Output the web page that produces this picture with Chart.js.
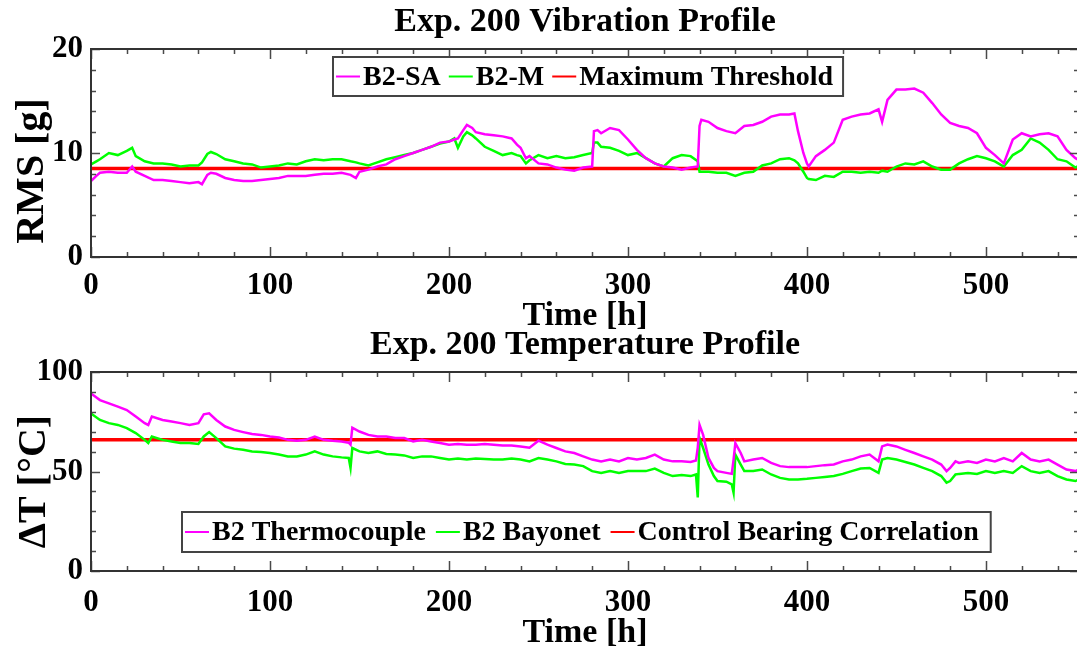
<!DOCTYPE html>
<html>
<head>
<meta charset="utf-8">
<script src="https://cdn.jsdelivr.net/npm/chart.js@4"></script>
<style>
  html, body { margin: 0; padding: 0; background: #fff; overflow: hidden; }
  body { width: 1077px; height: 655px; position: relative; }
  canvas { position: absolute; left: 0; }
  #vib { top: 0; }
  #temp { top: 325px; }
</style>
</head>
<body>
<canvas id="vib" width="1082" height="331"></canvas>
<canvas id="temp" width="1082" height="330"></canvas>
<script>
const serif = '"Liberation Serif", "Times New Roman", serif'
Chart.defaults.font.family = serif
Chart.defaults.font.weight = 'bold'
Chart.defaults.color = '#000'

const xMax = 552

// Exp. 200 vibration profile (RMS [g])
const vibT = [
  0, 3, 5, 10, 15, 20, 23, 25, 30, 35,
  40, 45, 50, 55, 60, 62, 65, 67, 70, 75,
  80, 85, 90, 95, 100, 105, 110, 115, 120, 125,
  130, 135, 140, 145, 148, 150, 155, 160, 165, 170,
  175, 180, 185, 190, 195, 200, 203, 205, 208, 210,
  213, 215, 220, 225, 230, 235, 238, 240, 243, 245,
  250, 255, 260, 265, 270, 275, 280, 281, 283, 285,
  290, 295, 300, 305, 310, 315, 320, 325, 330, 335,
  339, 340, 341, 345, 350, 355, 360, 365, 370, 375,
  380, 385, 390, 393, 395, 398, 400, 401, 405, 410,
  415, 420, 425, 430, 435, 440, 442, 445, 450, 455,
  460, 465, 470, 475, 480, 485, 490, 495, 500, 505,
  510, 515, 520, 525, 530, 535, 540, 545, 550, 552
]
const b2SA = [
  7.3, 7.8, 8.1, 8.2, 8.1, 8.1, 8.7, 8.2, 7.8, 7.4,
  7.4, 7.3, 7.2, 7.1, 7.2, 7.0, 7.9, 8.1, 8.0, 7.6,
  7.4, 7.3, 7.3, 7.4, 7.5, 7.6, 7.8, 7.8, 7.8, 7.9,
  8.0, 8.0, 8.1, 7.9, 7.6, 8.2, 8.4, 8.7, 8.9, 9.4,
  9.7, 10.0, 10.3, 10.6, 11.0, 11.1, 11.3, 11.4, 12.2, 12.7,
  12.4, 12.0, 11.8, 11.7, 11.6, 11.4, 10.8, 10.5, 9.5, 9.7,
  9.0, 8.9, 8.6, 8.4, 8.3, 8.6, 8.7, 12.1, 12.2, 11.9,
  12.4, 12.2, 11.3, 10.3, 9.5, 9.0, 8.7, 8.6, 8.4, 8.6,
  8.7, 12.6, 13.2, 13.0, 12.4, 12.1, 11.9, 12.6, 12.7, 13.0,
  13.5, 13.7, 13.7, 13.8, 12.1, 10.0, 9.0, 8.7, 9.7, 10.3,
  11.0, 13.2, 13.5, 13.7, 13.8, 14.2, 13.0, 15.1, 16.1, 16.1,
  16.2, 15.8, 14.8, 13.7, 12.9, 12.6, 12.4, 11.9, 10.5, 9.8,
  9.0, 11.3, 11.9, 11.6, 11.8, 11.9, 11.6, 10.3, 9.5, 9.3
]
const b2M = [
  8.9, 9.2, 9.4, 10.0, 9.8, 10.2, 10.5, 9.7, 9.2, 9.0,
  9.0, 8.9, 8.7, 8.8, 8.8, 9.1, 9.9, 10.1, 9.9, 9.4,
  9.2, 9.0, 8.9, 8.6, 8.7, 8.8, 9.0, 8.9, 9.2, 9.4,
  9.3, 9.4, 9.4, 9.2, 9.1, 9.0, 8.8, 9.1, 9.4, 9.6,
  9.8, 10.0, 10.3, 10.6, 10.9, 11.1, 11.4, 10.5, 11.6, 12.0,
  11.7, 11.4, 10.6, 10.2, 9.8, 10.0, 9.8, 9.7, 9.0, 9.3,
  9.8, 9.5, 9.7, 9.5, 9.6, 9.8, 10.0, 11.0, 11.0, 10.6,
  10.5, 10.2, 9.8, 10.0, 9.5, 9.0, 8.7, 9.5, 9.8, 9.7,
  9.2, 8.2, 8.2, 8.2, 8.1, 8.1, 7.8, 8.1, 8.2, 8.8,
  9.0, 9.4, 9.5, 9.3, 9.0, 8.2, 7.6, 7.5, 7.4, 7.8,
  7.7, 8.2, 8.2, 8.1, 8.2, 8.1, 8.3, 8.2, 8.7, 9.0,
  8.9, 9.2, 8.7, 8.4, 8.4, 9.0, 9.4, 9.7, 9.5, 9.2,
  8.7, 9.8, 10.3, 11.4, 11.0, 10.3, 9.4, 9.2, 8.6, 8.8
]
const maxThreshold = 8.5

// Exp. 200 temperature profile (delta T [C])
const tempT = [
  0, 5, 10, 15, 20, 25, 30, 32, 34, 40,
  45, 50, 55, 60, 63, 66, 70, 75, 80, 85,
  90, 95, 100, 105, 110, 115, 120, 125, 130, 135,
  140, 144, 145, 146, 150, 155, 160, 165, 170, 175,
  180, 185, 190, 195, 200, 205, 210, 215, 220, 225,
  230, 235, 240, 245, 250, 255, 260, 265, 270, 275,
  280, 285, 290, 295, 300, 305, 310, 315, 320, 325,
  330, 335, 338, 339, 340, 342, 345, 348, 350, 355,
  358, 359, 360, 363, 365, 370, 375, 380, 385, 390,
  395, 400, 405, 410, 415, 420, 425, 430, 435, 440,
  442, 445, 450, 455, 460, 465, 470, 475, 478, 480,
  483, 485, 490, 495, 500, 505, 510, 515, 520, 525,
  530, 535, 540, 545, 550, 552
]
const b2Thermocouple = [
  89.2, 85.9, 84.2, 82.6, 80.9, 77.6, 74.3, 73.4, 77.6, 75.9,
  75.1, 74.3, 73.4, 74.3, 78.7, 79.2, 75.9, 72.6, 70.9, 69.8,
  68.8, 68.4, 67.6, 67.1, 65.9, 65.4, 65.9, 67.6, 65.9, 65.4,
  65.1, 64.5, 63.5, 72.0, 70.1, 68.4, 67.6, 67.6, 66.8, 66.8,
  65.1, 65.9, 65.1, 64.3, 63.5, 63.8, 63.5, 63.5, 63.8, 63.5,
  63.1, 63.1, 62.6, 62.0, 65.5, 63.5, 61.8, 60.1, 59.3, 57.6,
  56.0, 55.1, 56.0, 55.1, 56.8, 56.0, 56.8, 58.5, 56.0, 55.1,
  55.1, 54.8, 55.5, 62.0, 73.4, 68.4, 56.8, 51.8, 50.2, 49.3,
  48.8, 56.0, 64.3, 59.3, 55.1, 56.0, 56.8, 54.3, 52.7, 52.2,
  52.2, 52.2, 52.7, 53.2, 53.5, 55.1, 56.0, 57.6, 58.5, 55.1,
  62.6, 63.5, 62.6, 60.9, 59.3, 57.6, 56.0, 53.5, 50.2, 51.8,
  55.1, 54.3, 55.1, 54.3, 56.0, 55.1, 56.8, 55.1, 59.3, 56.0,
  55.1, 56.0, 53.5, 51.0, 50.2, 51.0
]
const b2Bayonet = [
  79.2, 75.9, 74.3, 73.4, 71.8, 69.3, 65.9, 64.3, 67.6, 65.9,
  65.1, 64.3, 64.3, 63.8, 67.6, 69.8, 66.8, 62.6, 61.5, 60.9,
  60.1, 59.8, 59.3, 58.5, 57.6, 57.6, 58.5, 60.1, 58.5, 57.6,
  57.1, 56.8, 51.8, 61.8, 60.1, 59.3, 60.1, 58.8, 58.5, 58.1,
  56.8, 57.6, 57.6, 56.8, 56.0, 56.5, 56.0, 56.5, 56.3, 56.0,
  56.0, 56.5, 56.0, 55.1, 56.8, 56.0, 55.1, 53.8, 53.5, 52.7,
  50.2, 49.3, 50.2, 49.3, 50.2, 50.2, 50.2, 51.5, 49.3, 47.7,
  48.2, 47.7, 48.5, 37.0, 66.8, 61.8, 53.5, 47.7, 45.2, 44.9,
  43.5, 39.4, 58.5, 53.5, 50.2, 50.2, 51.0, 48.5, 46.8, 46.0,
  46.0, 46.3, 46.8, 47.2, 47.7, 48.8, 50.2, 51.5, 51.8, 49.3,
  56.0, 56.8, 56.0, 54.8, 53.5, 51.8, 50.2, 47.7, 44.4, 45.2,
  48.5, 48.8, 49.3, 48.8, 50.2, 49.3, 50.2, 49.3, 52.7, 50.2,
  49.3, 50.2, 47.7, 46.0, 45.2, 46.0
]
const controlCorrelation = 66

const MAGENTA = '#ff00ff'
const GREEN = '#00ff00'
const RED = '#ff0000'

const pts = (t, v) => t.map((x, i) => ({ x: x, y: v[i] }))
const flat = (v) => [{ x: 0, y: v }, { x: xMax, y: v }]

// matlab style box with inward ticks
const frame = {
  id: 'frame',
  afterDatasetsDraw(chart, args, o) {
    const { ctx, chartArea: a, scales: { x, y } } = chart
    ctx.save()
    ctx.strokeStyle = '#4a4a4a'
    ctx.lineWidth = 1.5
    ctx.beginPath()
    for (let v = x.min; v <= x.max + 0.01; v += o.xMinor) {
      const px = Math.round(x.getPixelForValue(v)) + 0.5
      const len = v % o.xMajor === 0 ? 10 : 5
      ctx.moveTo(px, a.bottom); ctx.lineTo(px, a.bottom - len)
      ctx.moveTo(px, a.top); ctx.lineTo(px, a.top + len)
    }
    for (let v = y.min; v <= y.max + 0.01; v += o.yMinor) {
      const py = Math.round(y.getPixelForValue(v)) + 0.5
      const len = v % o.yMajor === 0 ? 9 : 5
      ctx.moveTo(a.left, py); ctx.lineTo(a.left + len, py)
      ctx.moveTo(a.right, py); ctx.lineTo(a.right - len, py)
    }
    ctx.stroke()
    ctx.strokeStyle = '#333'
    ctx.lineWidth = 2
    ctx.strokeRect(a.left, a.top, a.right - a.left, a.bottom - a.top)
    ctx.restore()
  }
}

// legend drawn inside the axes, in a box
const boxLegend = {
  id: 'boxLegend',
  afterDraw(chart, args, o) {
    const { ctx, chartArea: a } = chart
    ctx.save()
    ctx.font = 'bold 28px ' + serif
    const items = chart.data.datasets.map((d) => ({ label: d.label, color: d.borderColor, w: ctx.measureText(d.label).width }))
    let total = o.padL + o.padR + o.space * (items.length - 1)
    items.forEach((it) => { total += o.line + o.gap + it.w })
    const left = Math.round((a.left + a.right) / 2 - total / 2 + o.shift)
    const top = o.at === 'top' ? a.top + o.offset : a.bottom - o.offset - o.height
    ctx.fillStyle = '#fff'
    ctx.fillRect(left, top, total, o.height)
    ctx.strokeStyle = '#444'
    ctx.lineWidth = 2
    ctx.strokeRect(left, top, total, o.height)
    const cy = top + o.height / 2
    let cx = left + o.padL
    items.forEach((it) => {
      ctx.strokeStyle = it.color
      ctx.lineWidth = 2
      ctx.beginPath(); ctx.moveTo(cx, cy); ctx.lineTo(cx + o.line, cy); ctx.stroke()
      ctx.fillStyle = '#000'
      ctx.textBaseline = 'middle'
      ctx.fillText(it.label, cx + o.line + o.gap, cy + 1)
      cx += o.line + o.gap + it.w + o.space
    })
    ctx.restore()
  }
}

// rotated y label
const yLabel = {
  id: 'yLabel',
  afterDraw(chart, args, o) {
    const { ctx, chartArea: a } = chart
    ctx.save()
    ctx.translate(o.x, (a.top + a.bottom) / 2 + o.dy)
    ctx.rotate(-Math.PI / 2)
    ctx.font = 'bold ' + o.size + 'px ' + serif
    ctx.fillStyle = '#000'
    ctx.textAlign = 'center'
    ctx.textBaseline = 'middle'
    ctx.fillText(o.text, 0, 0)
    ctx.restore()
  }
}

function profile(el, c) {
  return new Chart(el, {
    type: 'line',
    data: { datasets: c.datasets },
    options: {
      responsive: false,
      animation: false,
      devicePixelRatio: 1,
      layout: { padding: { left: 0, right: 3, top: 0, bottom: 0 } },
      elements: { point: { radius: 0 }, line: { tension: 0 } },
      plugins: {
        legend: { display: false },
        tooltip: { enabled: false },
        title: {
          display: true,
          text: c.title,
          fullSize: false,
          color: '#000',
          font: { size: 34, weight: 'bold', lineHeight: 1 },
          padding: c.titlePad,
        },
        frame: c.frame,
        boxLegend: c.legend,
        yLabel: c.yLabel,
      },
      scales: {
        x: {
          type: 'linear',
          min: 0,
          max: xMax,
          grid: { display: false, drawTicks: false },
          border: { display: false },
          ticks: { stepSize: 100, includeBounds: false, maxRotation: 0, padding: c.xTickPad, color: '#000', font: { size: 31, weight: 'bold', lineHeight: 1 } },
          title: { display: true, text: 'Time [h]', color: '#000', font: { size: 34, weight: 'bold', lineHeight: 1 }, padding: { top: 0, bottom: c.xTitlePad } },
          afterFit: (s) => { s.height = c.xHeight },
        },
        y: {
          min: 0,
          max: c.yMax,
          grid: { display: false, drawTicks: false },
          border: { display: false },
          ticks: { stepSize: c.yStep, padding: 8, color: '#000', font: { size: 31, weight: 'bold', lineHeight: 1 } },
          afterFit: (s) => { s.width = 91 },
        },
      },
    },
    plugins: [frame, boxLegend, yLabel],
  })
}

profile(document.getElementById('vib'), {
  title: 'Exp. 200 Vibration Profile',
  titlePad: { top: 5, bottom: 10 },
  xTickPad: 13,
  xTitlePad: -2,
  xHeight: 74,
  yMax: 20,
  yStep: 10,
  frame: { xMinor: 20, xMajor: 100, yMinor: 2, yMajor: 10 },
  legend: { at: 'top', offset: 8, height: 39, padL: 3, padR: 10, line: 24, gap: 3, space: 8, shift: 3 },
  yLabel: { text: 'RMS [g]', x: 33, dy: 18, size: 40 },
  datasets: [
    { label: 'B2-SA', data: pts(vibT, b2SA), borderColor: MAGENTA, borderWidth: 2.5 },
    { label: 'B2-M', data: pts(vibT, b2M), borderColor: GREEN, borderWidth: 2.5 },
    { label: 'Maximum Threshold', data: flat(maxThreshold), borderColor: RED, borderWidth: 3.5 },
  ],
})

profile(document.getElementById('temp'), {
  title: 'Exp. 200 Temperature Profile',
  titlePad: { top: 3, bottom: 10 },
  xTickPad: 16,
  xTitlePad: 5,
  xHeight: 84,
  yMax: 100,
  yStep: 50,
  frame: { xMinor: 20, xMajor: 100, yMinor: 10, yMajor: 50 },
  legend: { at: 'bottom', offset: 19, height: 40, padL: 3, padR: 12, line: 24, gap: 3, space: 10, shift: 1 },
  yLabel: { text: 'ΔT [°C]', x: 35, dy: 10, size: 40 },
  datasets: [
    { label: 'B2 Thermocouple', data: pts(tempT, b2Thermocouple), borderColor: MAGENTA, borderWidth: 2.5 },
    { label: 'B2 Bayonet', data: pts(tempT, b2Bayonet), borderColor: GREEN, borderWidth: 2.5 },
    { label: 'Control Bearing Correlation', data: flat(controlCorrelation), borderColor: RED, borderWidth: 3.5 },
  ],
})
</script>
</body>
</html>
